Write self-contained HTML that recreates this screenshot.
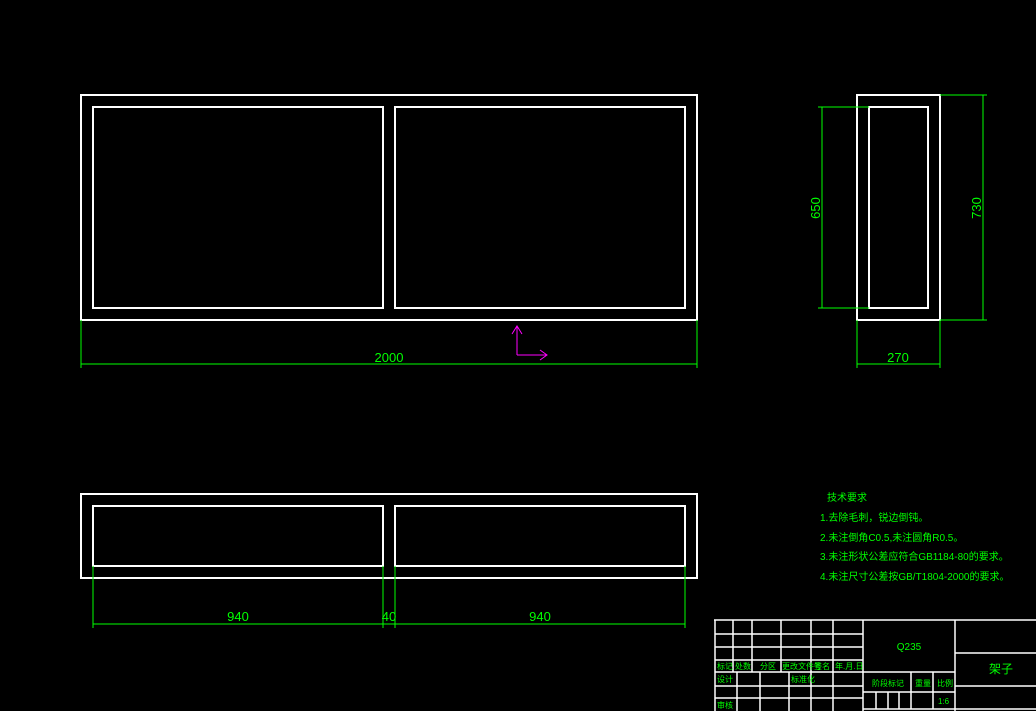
<!DOCTYPE html>
<html><head><meta charset="utf-8"><style>
html,body{margin:0;padding:0;background:#000;}
svg{display:block}
text{font-family:"Liberation Sans","Noto Sans CJK SC",sans-serif;fill:#00ff00;}
</style></head><body>
<svg width="1036" height="711" viewBox="0 0 1036 711" xmlns="http://www.w3.org/2000/svg">
<g fill="none" stroke="#fff" stroke-width="2">
<rect x="81" y="95" width="616" height="225"/>
<rect x="93" y="107" width="290" height="201"/>
<rect x="395" y="107" width="290" height="201"/>
<rect x="857" y="95" width="83" height="225"/>
<rect x="869" y="107" width="59" height="201"/>
<rect x="81" y="494" width="616" height="84"/>
<rect x="93" y="506" width="290" height="60"/>
<rect x="395" y="506" width="290" height="60"/>
</g>
<g stroke="#00ff00" stroke-width="1" fill="none">
<line x1="81" y1="320" x2="81" y2="368"/><line x1="697" y1="320" x2="697" y2="368"/>
<line x1="81" y1="364" x2="697" y2="364"/>
<line x1="818" y1="107" x2="869" y2="107"/><line x1="818" y1="308" x2="869" y2="308"/>
<line x1="822" y1="107" x2="822" y2="308"/>
<line x1="940" y1="95" x2="987" y2="95"/><line x1="940" y1="320" x2="987" y2="320"/>
<line x1="983" y1="95" x2="983" y2="320"/>
<line x1="857" y1="320" x2="857" y2="368"/><line x1="940" y1="320" x2="940" y2="368"/>
<line x1="857" y1="364" x2="940" y2="364"/>
<line x1="93" y1="566" x2="93" y2="628"/><line x1="383" y1="566" x2="383" y2="628"/>
<line x1="395" y1="566" x2="395" y2="628"/><line x1="685" y1="566" x2="685" y2="628"/>
<line x1="93" y1="624" x2="685" y2="624"/>
</g>
<g stroke="#ff00ff" stroke-width="1" fill="none">
<line x1="517" y1="326" x2="517" y2="355"/><line x1="517" y1="355" x2="547" y2="355"/>
<polyline points="512,334 517,326 522,334"/><polyline points="540,350 547,355 540,360"/>
</g>
<g font-size="13" text-anchor="middle">
<text x="389" y="362">2000</text>
<text x="898" y="362">270</text>
<text transform="translate(820,208) rotate(-90)">650</text>
<text transform="translate(981,208) rotate(-90)">730</text>
<text x="238" y="621">940</text>
<text x="389" y="621">40</text>
<text x="540" y="621">940</text>
</g>
<g font-size="10">
<text x="827" y="501">技术要求</text>
<text x="820" y="521">1.去除毛刺，锐边倒钝。</text>
<text x="820" y="541">2.未注倒角C0.5,未注圆角R0.5。</text>
<text x="820" y="560">3.未注形状公差应符合GB1184-80的要求。</text>
<text x="820" y="580">4.未注尺寸公差按GB/T1804-2000的要求。</text>
</g>
<g stroke="#fff" stroke-width="1.5" fill="none">
<line x1="714" y1="620" x2="1036" y2="620"/>
<line x1="715" y1="620" x2="715" y2="711"/>
<line x1="863" y1="620" x2="863" y2="711"/>
<line x1="955" y1="620" x2="955" y2="711"/>
<line x1="715" y1="634" x2="863" y2="634"/>
<line x1="715" y1="647" x2="863" y2="647"/>
<line x1="715" y1="660" x2="863" y2="660"/>
<line x1="715" y1="672" x2="863" y2="672"/>
<line x1="715" y1="686" x2="863" y2="686"/>
<line x1="715" y1="698" x2="863" y2="698"/>
<line x1="733" y1="620" x2="733" y2="672"/>
<line x1="752" y1="620" x2="752" y2="672"/>
<line x1="781" y1="620" x2="781" y2="672"/>
<line x1="811" y1="620" x2="811" y2="711"/>
<line x1="833" y1="620" x2="833" y2="711"/>
<line x1="737" y1="672" x2="737" y2="711"/>
<line x1="760" y1="672" x2="760" y2="711"/>
<line x1="789" y1="672" x2="789" y2="711"/>
<line x1="863" y1="672" x2="955" y2="672"/>
<line x1="863" y1="692" x2="955" y2="692"/>
<line x1="863" y1="709" x2="955" y2="709"/>
<line x1="911" y1="672" x2="911" y2="709"/>
<line x1="933" y1="672" x2="933" y2="709"/>
<line x1="876" y1="692" x2="876" y2="709"/>
<line x1="888" y1="692" x2="888" y2="709"/>
<line x1="899" y1="692" x2="899" y2="709"/>
<line x1="955" y1="653" x2="1036" y2="653"/>
<line x1="955" y1="686" x2="1036" y2="686"/>
<line x1="955" y1="709" x2="1036" y2="709"/>
</g>
<g font-size="8">
<text x="717" y="669">标记</text><text x="735" y="669">处数</text><text x="760" y="669">分区</text>
<text x="782" y="669">更改文件号</text><text x="814" y="669">签名</text><text x="835" y="669">年.月.日</text>
<text x="717" y="682">设计</text><text x="791" y="682">标准化</text><text x="717" y="708">审核</text>
<text x="872" y="686">阶段标记</text><text x="915" y="686">重量</text><text x="937" y="686">比例</text>
<text x="938" y="704">1:6</text>
</g>
<text x="909" y="650" font-size="10" text-anchor="middle">Q235</text>
<text x="1001" y="673" font-size="12" text-anchor="middle">架子</text>
</svg>
</body></html>
